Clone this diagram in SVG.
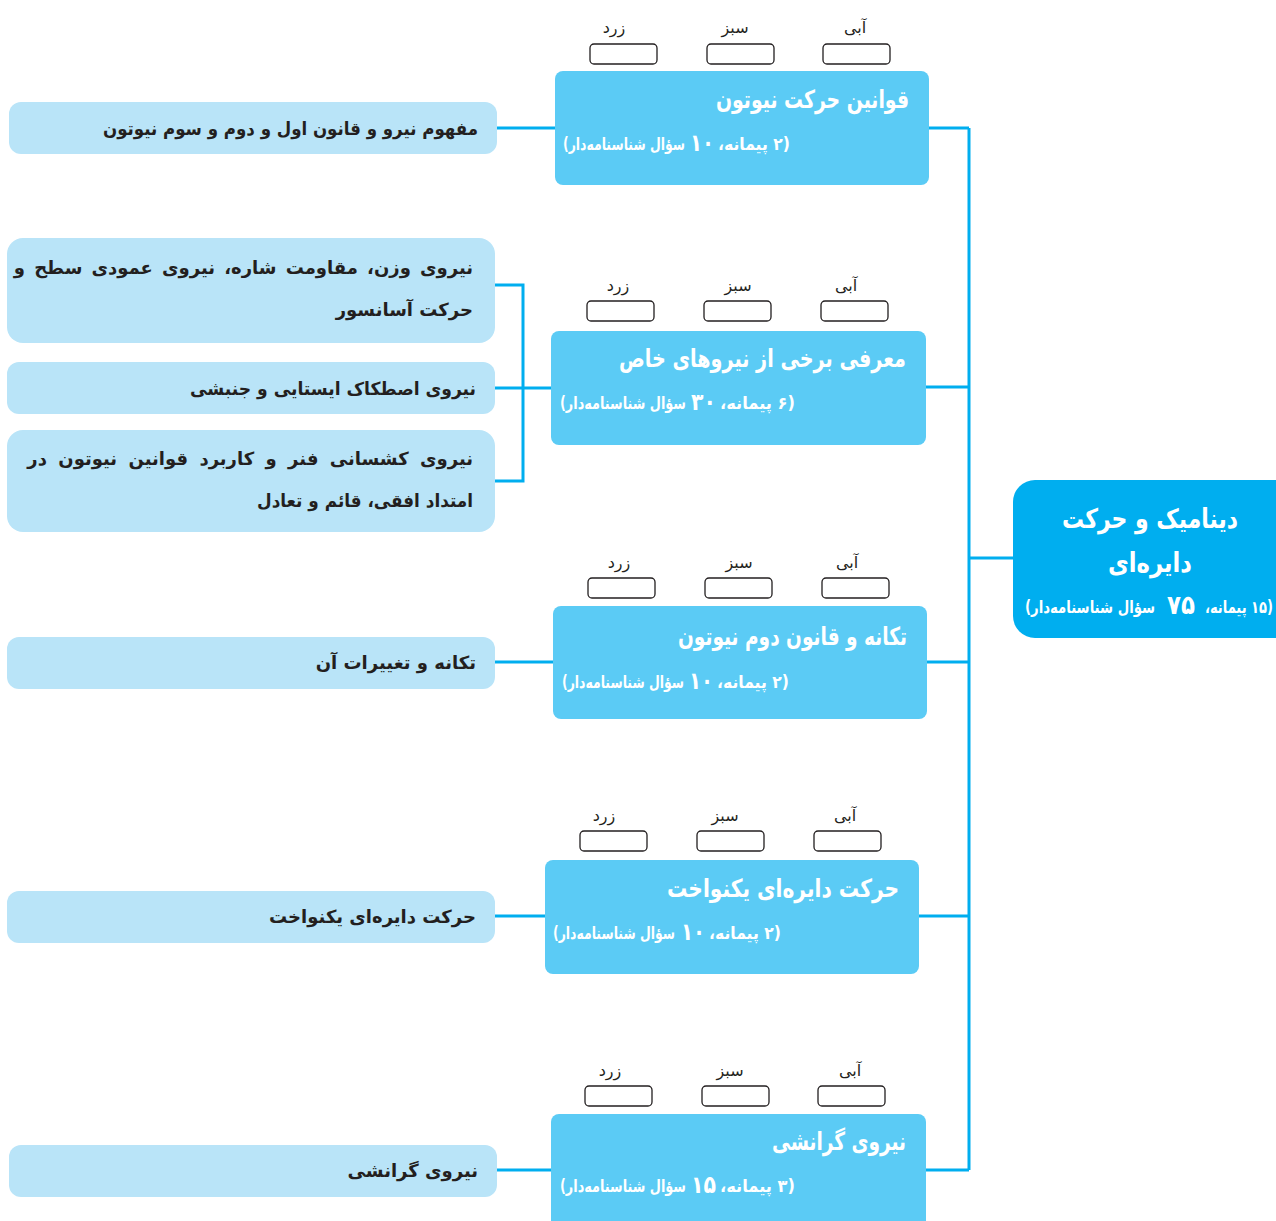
<svg xmlns="http://www.w3.org/2000/svg" width="1276" height="1221" viewBox="0 0 1276 1221">
<style>
.root{fill:#00aeef}
.mod{fill:#5bcbf5}
.leaf{fill:#b9e4f8}
.chk{fill:#fff;stroke:#231f20;stroke-width:1.3}
.conn{fill:none;stroke:#00aeef;stroke-width:3}
text{font-family:"DejaVu Sans",sans-serif;direction:rtl}
.rt{fill:#fff;font-weight:bold;font-size:27px;text-anchor:middle}
.mt{fill:#fff;font-weight:bold;font-size:25px;text-anchor:start}
.ms{fill:#fff;font-weight:bold;font-size:17px;text-anchor:start}
.num{fill:#fff;font-weight:bold;font-size:24px;text-anchor:start}
.lt{fill:#231f20;font-weight:bold;font-size:18px;text-anchor:start}
.cl{fill:#231f20;font-size:16px;text-anchor:middle}
</style>
<g id="connectors">
<path class="conn" d="M969 128V1170M929 128H969M926 387H969M927 662H969M918 916H969M926 1170H969M969 558H1013"/>
<path class="conn" d="M497 128H555"/>
<path class="conn" d="M495 285H523V481H495M495 388H551"/>
<path class="conn" d="M495 662H553"/>
<path class="conn" d="M495 916H545"/>
<path class="conn" d="M497 1170H551"/>
</g>
<g id="root">
<rect class="root" x="1013" y="480" width="290" height="158" rx="22"/>
<text class="rt" x="1150" y="528" textLength="176" lengthAdjust="spacingAndGlyphs">دینامیک و حرکت</text>
<text class="rt" x="1150" y="572" textLength="84" lengthAdjust="spacingAndGlyphs">دایره‌ای</text>
<text class="ms" x="1273" y="613" textLength="68" lengthAdjust="spacingAndGlyphs">(۱۵ پیمانه،</text>
<text class="num" x="1195" y="614" style="font-size:27px" textLength="28" lengthAdjust="spacingAndGlyphs">۷۵</text>
<text class="ms" x="1155" y="613" textLength="130" lengthAdjust="spacingAndGlyphs">سؤال شناسنامه‌دار)</text>
</g>
<g id="m1">
<text class="cl" x="614" y="33">زرد</text><text class="cl" x="735" y="33">سبز</text><text class="cl" x="855" y="33">آبی</text>
<rect class="chk" x="590" y="44" width="67" height="20" rx="4"/><rect class="chk" x="707" y="44" width="67" height="20" rx="4"/><rect class="chk" x="823" y="44" width="67" height="20" rx="4"/>
<rect class="mod" x="555" y="71" width="374" height="114" rx="8"/>
<text class="mt" x="909" y="108" textLength="193" lengthAdjust="spacingAndGlyphs">قوانین حرکت نیوتون</text>
<text class="ms" x="790" y="150" textLength="72" lengthAdjust="spacingAndGlyphs">(۲ پیمانه،</text>
<text class="num" x="714" y="151" textLength="24" lengthAdjust="spacingAndGlyphs">۱۰</text>
<text class="ms" x="685" y="150" textLength="122" lengthAdjust="spacingAndGlyphs">سؤال شناسنامه‌دار)</text>
</g>
<g id="m2">
<text class="cl" x="618" y="291">زرد</text><text class="cl" x="738" y="291">سبز</text><text class="cl" x="846" y="291">آبی</text>
<rect class="chk" x="587" y="301" width="67" height="20" rx="4"/><rect class="chk" x="704" y="301" width="67" height="20" rx="4"/><rect class="chk" x="821" y="301" width="67" height="20" rx="4"/>
<rect class="mod" x="551" y="331" width="375" height="114" rx="8"/>
<text class="mt" x="906" y="367" textLength="287" lengthAdjust="spacingAndGlyphs">معرفی برخی از نیروهای خاص</text>
<text class="ms" x="795" y="409" textLength="75" lengthAdjust="spacingAndGlyphs">(۶ پیمانه،</text>
<text class="num" x="716" y="410" textLength="25" lengthAdjust="spacingAndGlyphs">۳۰</text>
<text class="ms" x="686" y="409" textLength="126" lengthAdjust="spacingAndGlyphs">سؤال شناسنامه‌دار)</text>
</g>
<g id="m3">
<text class="cl" x="619" y="568">زرد</text><text class="cl" x="739" y="568">سبز</text><text class="cl" x="847" y="568">آبی</text>
<rect class="chk" x="588" y="578" width="67" height="20" rx="4"/><rect class="chk" x="705" y="578" width="67" height="20" rx="4"/><rect class="chk" x="822" y="578" width="67" height="20" rx="4"/>
<rect class="mod" x="553" y="606" width="374" height="113" rx="8"/>
<text class="mt" x="907" y="645" textLength="229" lengthAdjust="spacingAndGlyphs">تکانه و قانون دوم نیوتون</text>
<text class="ms" x="789" y="688" textLength="72" lengthAdjust="spacingAndGlyphs">(۲ پیمانه،</text>
<text class="num" x="713" y="689" textLength="24" lengthAdjust="spacingAndGlyphs">۱۰</text>
<text class="ms" x="684" y="688" textLength="122" lengthAdjust="spacingAndGlyphs">سؤال شناسنامه‌دار)</text>
</g>
<g id="m4">
<text class="cl" x="604" y="821">زرد</text><text class="cl" x="725" y="821">سبز</text><text class="cl" x="845" y="821">آبی</text>
<rect class="chk" x="580" y="831" width="67" height="20" rx="4"/><rect class="chk" x="697" y="831" width="67" height="20" rx="4"/><rect class="chk" x="814" y="831" width="67" height="20" rx="4"/>
<rect class="mod" x="545" y="860" width="374" height="114" rx="8"/>
<text class="mt" x="899" y="897" textLength="232" lengthAdjust="spacingAndGlyphs">حرکت دایره‌ای یکنواخت</text>
<text class="ms" x="781" y="939" textLength="72" lengthAdjust="spacingAndGlyphs">(۲ پیمانه،</text>
<text class="num" x="705" y="940" textLength="24" lengthAdjust="spacingAndGlyphs">۱۰</text>
<text class="ms" x="675" y="939" textLength="122" lengthAdjust="spacingAndGlyphs">سؤال شناسنامه‌دار)</text>
</g>
<g id="m5">
<text class="cl" x="610" y="1076">زرد</text><text class="cl" x="730" y="1076">سبز</text><text class="cl" x="850" y="1076">آبی</text>
<rect class="chk" x="585" y="1086" width="67" height="20" rx="4"/><rect class="chk" x="702" y="1086" width="67" height="20" rx="4"/><rect class="chk" x="818" y="1086" width="67" height="20" rx="4"/>
<rect class="mod" x="551" y="1114" width="375" height="120" rx="8"/>
<text class="mt" x="906" y="1150" textLength="134" lengthAdjust="spacingAndGlyphs">نیروی گرانشی</text>
<text class="ms" x="795" y="1192" textLength="75" lengthAdjust="spacingAndGlyphs">(۳ پیمانه،</text>
<text class="num" x="716" y="1193" textLength="25" lengthAdjust="spacingAndGlyphs">۱۵</text>
<text class="ms" x="686" y="1192" textLength="126" lengthAdjust="spacingAndGlyphs">سؤال شناسنامه‌دار)</text>
</g>
<g id="l1">
<rect class="leaf" x="9" y="102" width="488" height="52" rx="12"/>
<text class="lt" x="478" y="135" textLength="375" lengthAdjust="spacingAndGlyphs">مفهوم نیرو و قانون اول و دوم و سوم نیوتون</text>
</g>
<g id="l2a">
<rect class="leaf" x="7" y="238" width="488" height="105" rx="16"/>
<text class="lt" x="473" y="274" style="word-spacing:2.9px">نیروی وزن، مقاومت شاره، نیروی عمودی سطح و</text>
<text class="lt" x="473" y="316">حرکت آسانسور</text>
</g>
<g id="l2b">
<rect class="leaf" x="7" y="362" width="488" height="52" rx="12"/>
<text class="lt" x="476" y="395" textLength="286" lengthAdjust="spacingAndGlyphs">نیروی اصطکاک ایستایی و جنبشی</text>
</g>
<g id="l2c">
<rect class="leaf" x="7" y="430" width="488" height="102" rx="16"/>
<text class="lt" x="473" y="465" style="word-spacing:5.1px">نیروی کشسانی فنر و کاربرد قوانین نیوتون در</text>
<text class="lt" x="473" y="507" textLength="216" lengthAdjust="spacingAndGlyphs">امتداد افقی، قائم و تعادل</text>
</g>
<g id="l3">
<rect class="leaf" x="7" y="637" width="488" height="52" rx="12"/>
<text class="lt" x="476" y="669">تکانه و تغییرات آن</text>
</g>
<g id="l4">
<rect class="leaf" x="7" y="891" width="488" height="52" rx="12"/>
<text class="lt" x="476" y="923">حرکت دایره‌ای یکنواخت</text>
</g>
<g id="l5">
<rect class="leaf" x="9" y="1145" width="488" height="52" rx="12"/>
<text class="lt" x="478" y="1177">نیروی گرانشی</text>
</g>
</svg>
